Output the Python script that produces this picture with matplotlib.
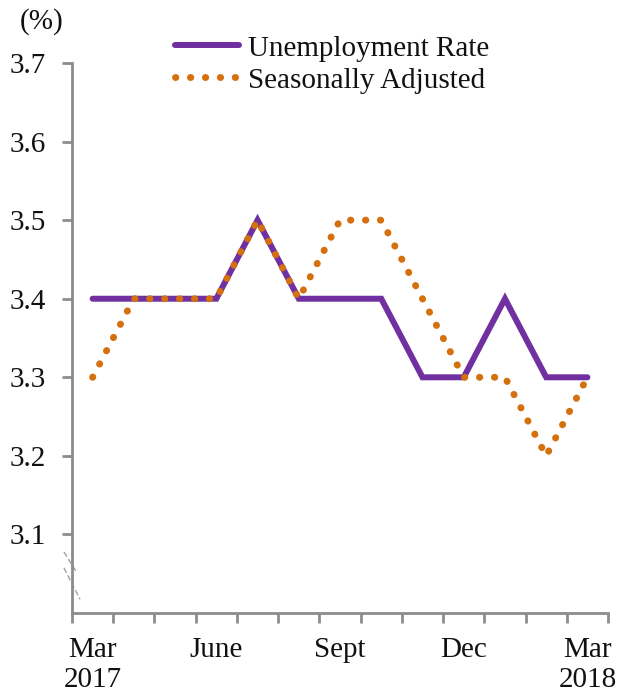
import matplotlib.pyplot as plt

# Monthly unemployment rate, Mar 2017 - Mar 2018
months = ["Mar\n2017", "", "", "June", "", "", "Sept", "", "", "Dec", "", "", "Mar\n2018"]
unemployment = [3.4, 3.4, 3.4, 3.4, 3.5, 3.4, 3.4, 3.4, 3.3, 3.3, 3.4, 3.3, 3.3]
seasonally_adj = [3.3, 3.4, 3.4, 3.4, 3.5, 3.4, 3.5, 3.5, 3.4, 3.3, 3.3, 3.2, 3.3]
yticks = [3.1, 3.2, 3.3, 3.4, 3.5, 3.6, 3.7]

plt.rcParams["font.family"] = ["Liberation Serif", "DejaVu Serif"]
axis_col = "#8c8c8c"
text_col = "#111111"
fs = 21

fig = plt.figure(figsize=(6.19, 6.94), dpi=100)
ax = fig.add_axes([0.1163, 0.1167, 0.866, 0.7925])

x = list(range(len(months)))
ax.plot(x, unemployment, color="#7030A0", lw=4.3, solid_capstyle="round",
        solid_joinstyle="miter", label="Unemployment Rate")
ax.plot(x, seasonally_adj, color="#D4700E", lw=5, linestyle=(0, (0.05, 2.1)),
        dash_capstyle="round", label="Seasonally Adjusted")

ax.set_xlim(-0.5, len(months) - 0.5)
ax.set_ylim(3.0, 3.7)

# ticks between categories, labels at category centres
ax.set_xticks([i - 0.5 for i in range(len(months) + 1)])
ax.set_xticklabels([])
ax.set_xticks(x, minor=True)
ax.set_xticklabels(months, minor=True, fontsize=fs, color=text_col, linespacing=1.2)
ax.tick_params(axis="x", which="major", direction="out", length=7, width=2, color=axis_col)
ax.tick_params(axis="x", which="minor", length=0, pad=17)

ax.set_yticks(yticks)
ax.set_yticklabels([f"{v:.1f}" for v in yticks], fontsize=fs, color=text_col)
ax.tick_params(axis="y", direction="out", length=7, width=2, color=axis_col, pad=12)

for s in ["top", "right"]:
    ax.spines[s].set_visible(False)
for s in ["left", "bottom"]:
    ax.spines[s].set_color(axis_col)
    ax.spines[s].set_linewidth(2)

# axis break marks
for (x0, y0, x1, y1) in [(-0.015, 0.111, 0.008, 0.075), (-0.015, 0.082, 0.015, 0.025)]:
    ax.plot([x0, x1], [y0, y1], transform=ax.transAxes, color="#a0a0a0", lw=1,
            linestyle=(0, (4, 2)), clip_on=False)

fig.text(0.032, 0.958, "(%)", fontsize=fs, color=text_col)

ax.legend(loc="upper left", bbox_to_anchor=(0.264, 0.966), bbox_transform=fig.transFigure,
          frameon=False, fontsize=fs, handlelength=2.2, handletextpad=0.3,
          labelspacing=0.19, borderaxespad=0, labelcolor=text_col)

plt.savefig("out.png", dpi=100)
